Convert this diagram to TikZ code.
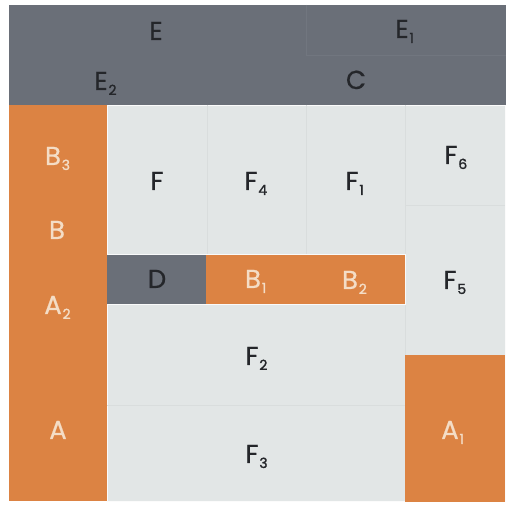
\documentclass[tikz,border=0pt]{standalone}
\usepackage{fontspec}
\setmainfont{Poppins}
\newfontfamily\labfont{Poppins}[FakeBold=0.7]
\newfontfamily\subfont{Poppins}[FakeBold=1.4]
\definecolor{bandgray}{HTML}{6A6F78}
\definecolor{boardorange}{HTML}{DC8343}
\definecolor{boardlight}{HTML}{E2E6E6}
\definecolor{seamlight}{HTML}{D9DDDD}
\definecolor{seamgray}{HTML}{71767F}
\definecolor{inkdark}{HTML}{24262A}
\definecolor{inkcream}{HTML}{F4DDC6}
\newcommand{\piecelab}[2]{#1\makebox[0pt][l]{\kern0.8pt\raisebox{-5pt}{\subfont\fontsize{14}{14}\selectfont #2}}}
\tikzset{
  lab/.style={inner sep=0pt, anchor=base, font=\labfont\fontsize{26}{26}\selectfont},
  darklab/.style={lab, text=inkdark},
  creamlab/.style={lab, text=inkcream},
  seam/.style={line width=0.7pt, seamlight},
  gseam/.style={line width=0.7pt, seamgray}
}
\begin{document}
\begin{tikzpicture}[x=1pt,y=-1pt]
\useasboundingbox (0,0) rectangle (512,510);
\fill[white] (0,0) rectangle (512,510);
% regions
\fill[bandgray] (9,5) rectangle (506,105);
\fill[boardorange] (9,105) rectangle (107,501);
\fill[boardlight] (107,105) rectangle (506,502);
\draw[line width=0.8pt, white!85!boardlight] (107.5,105.5) rectangle (505.5,501.5);
% faint seams
\draw[gseam] (306,5) -- (306,55) -- (506,55);
\draw[seam] (207,105) -- (207,255);
\draw[seam] (306,105) -- (306,255);
\draw[seam] (405,105) -- (405,355);
\draw[seam] (405,205) -- (505,205);
\draw[seam] (107,405) -- (405,405);
% inner pieces
\fill[bandgray] (107,255) rectangle (206,304);
\fill[boardorange] (206,255) rectangle (405,304);
\fill[boardorange] (405,355) rectangle (505,502);
\draw[line width=0.8pt, white!80!boardlight] (107,254.5) -- (405.5,254.5) -- (405.5,304.5) -- (107,304.5);
% labels
\node[darklab] (E) at (156,40) {E};
\node[darklab] (E1) at (402,38) {\piecelab{E}{1}};
\node[darklab] (E2) at (101,90) {\piecelab{E}{2}};
\node[darklab] (C) at (356,89) {C};
\node[creamlab] (B3) at (53,165) {\piecelab{B}{3}};
\node[darklab] (F) at (157,190) {F};
\node[darklab] (F4) at (251,190) {\piecelab{F}{4}};
\node[darklab] (F1) at (352,190) {\piecelab{F}{1}};
\node[darklab] (F6) at (451,164) {\piecelab{F}{6}};
\node[creamlab] (B) at (57,239) {B};
\node[darklab] (D) at (157,288) {D};
\node[creamlab] (B1) at (253,288) {\piecelab{B}{1}};
\node[creamlab] (B2) at (350,289) {\piecelab{B}{2}};
\node[darklab] (F5) at (450,289) {\piecelab{F}{5}};
\node[creamlab] (A2) at (53,314) {\piecelab{A}{2}};
\node[darklab] (F2) at (252,365) {\piecelab{F}{2}};
\node[creamlab] (A) at (58,439) {A};
\node[creamlab] (A1) at (450,439) {\piecelab{A}{1}};
\node[darklab] (F3) at (252,463) {\piecelab{F}{3}};
\end{tikzpicture}
\end{document}
